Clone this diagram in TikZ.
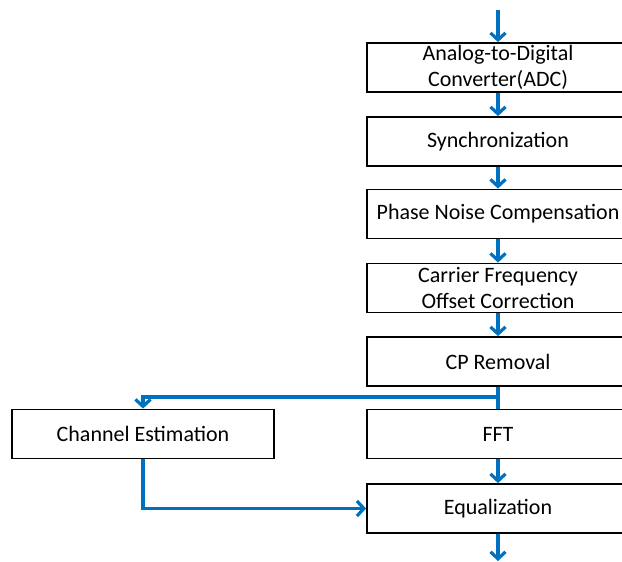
\documentclass[tikz,border=0pt]{standalone}
\usepackage{fontspec}
\setmainfont{Carlito}
\usetikzlibrary{arrows.meta}
\definecolor{flowblue}{RGB}{0,112,192}
\begin{document}
\begin{tikzpicture}[x=1pt,y=1pt,
  block/.style={draw=black, line width=1.8pt, fill=white, minimum width=262pt,
    minimum height=49pt, inner sep=0pt, align=center,
    font=\fontsize{22}{26}\selectfont},
  flow/.style={draw=flowblue, line width=3.2pt,
    -{Straight Barb[length=7pt,width=15pt]}},
  link/.style={draw=flowblue, line width=3.2pt}]
\useasboundingbox (0,0) rectangle (622,-562);
\clip (0,0) rectangle (622,-562);

% receiver chain
\node[block] (adc)   at (498,-67.5) {Analog-to-Digital\\Converter(ADC)};
\node[block] (sync)  at (498,-141.5) {Synchronization};
\node[block] (phase) at (498,-214) {Phase Noise Compensation};
\node[block] (cfo)   at (498,-288) {Carrier Frequency\\Offset Correction};
\node[block] (cp)    at (498,-361.5) {CP Removal};
\node[block] (fft)   at (498,-434) {FFT};
\node[block] (eq)    at (498,-508.5) {Equalization};
\node[block] (chest) at (143,-434) {Channel Estimation};

% signal in and out
\coordinate (in)  at (498,-10);
\coordinate (out) at (498,-561);
\draw[flow] (in) -- (adc.north);
\draw[flow] (eq.south) -- (out);

% main path
\draw[flow] (adc.south) -- (sync.north);
\draw[flow] (sync.south) -- (phase.north);
\draw[flow] (phase.south) -- (cfo.north);
\draw[flow] (cfo.south) -- (cp.north);
\draw[link] (cp.south) -- (fft.north);
\draw[flow] (fft.south) -- (eq.north);

% branch to the channel estimator and back to the equalizer
\coordinate (tap) at (498,-397);
\draw[flow] (tap) -- (chest.north |- tap) -- (chest.north);
\draw[flow] (chest.south) |- (eq.west);
\end{tikzpicture}
\end{document}
